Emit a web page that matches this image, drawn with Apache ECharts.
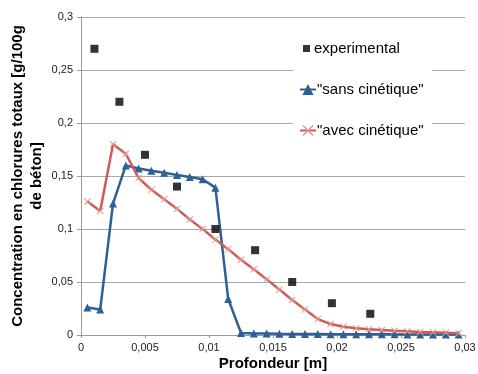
<!DOCTYPE html>
<html>
<head>
<meta charset="utf-8">
<script src="https://cdn.jsdelivr.net/npm/echarts@6/dist/echarts.min.js"></script>
<style>html,body{margin:0;padding:0;background:#fff;}#c{width:478px;height:374px;}</style>
</head>
<body>
<div id="c"></div>
<script>
const simX = [0.0005,0.0015,0.0025,0.0035,0.0045,0.0055,0.0065,0.0075,0.0085,0.0095,0.0105,0.0115,0.0125,0.0135,0.0145,0.0155,0.0165,0.0175,0.0185,0.0195,0.0205,0.0215,0.0225,0.0235,0.0245,0.0255,0.0265,0.0275,0.0285,0.0295];
const sansCinetique = [0.026,0.024,0.124,0.160,0.157,0.155,0.153,0.151,0.149,0.147,0.139,0.034,0.002,0.0015,0.0015,0.0012,0.001,0.001,0.001,0.0008,0.0008,0.0007,0.0007,0.0006,0.0006,0.0005,0.0005,0.0005,0.0005,0.0005];
const avecCinetique = [0.126,0.117,0.180,0.171,0.148,0.137,0.128,0.119,0.109,0.100,0.090,0.081,0.071,0.062,0.0525,0.043,0.033,0.024,0.015,0.0104,0.0078,0.0063,0.0054,0.0047,0.004,0.0035,0.0028,0.0025,0.0022,0.0016];
const expX = [0.00105,0.003,0.005,0.0075,0.0105,0.0136,0.0165,0.0196,0.0226];
const expY = [0.27,0.22,0.17,0.14,0.10,0.08,0.05,0.03,0.02];
const xTicks = {min:0, max:0.03, interval:0.005};
const yTicks = {min:0, max:0.3, interval:0.05};

const fmt = v => String(+v.toFixed(4)).replace('.', ',');
const zip = (a,b) => a.map((x,i)=>[x,b[i]]);
const xSym = 'path://M0,1L1,0L5,4L9,0L10,1L6,5L10,9L9,10L5,6L1,10L0,9L4,5Z';
const font = 'Liberation Sans';
const legText = {fontFamily:font, fontSize:15, color:'#000', padding:[0,0,0,-4]};

const chart = echarts.init(document.getElementById('c'), null, {renderer:'canvas'});
chart.setOption({
  animation:false,
  backgroundColor:'#fff',
  textStyle:{fontFamily:font},
  grid:{left:81, right:13, top:17, bottom:39, containLabel:false, outerBoundsMode:'none'},
  graphic:[{type:'rect', z:1, shape:{x:293, y:27, width:139, height:118}, style:{fill:'#fff'}}],
  legend:[
    {orient:'vertical', left:298, top:36, itemWidth:7, itemHeight:7,
     textStyle:Object.assign({}, legText, {padding:[0,0,0,-1]}),
     data:['experimental']},
    {orient:'vertical', left:294, top:77, itemGap:26, itemWidth:16, itemHeight:14,
     textStyle:legText,
     data:['"sans cinétique"','"avec cinétique"']}
  ],
  xAxis:{
    type:'value', min:xTicks.min, max:xTicks.max, interval:xTicks.interval,
    name:'Profondeur [m]', nameLocation:'middle', nameGap:21, nameMoveOverlap:false,
    nameTextStyle:{fontFamily:font, fontWeight:'bold', fontSize:15, color:'#000'},
    axisLine:{show:true, lineStyle:{color:'#9a9a9a'}},
    axisTick:{show:true, length:3, lineStyle:{color:'#9a9a9a'}},
    axisLabel:{formatter:fmt, fontSize:11, color:'#222', margin:7},
    splitLine:{show:false}
  },
  yAxis:{
    type:'value', min:yTicks.min, max:yTicks.max, interval:yTicks.interval,
    name:'Concentration en chlorures totaux [g/100g\nde béton]', nameLocation:'middle', nameGap:35, nameMoveOverlap:false,
    nameTextStyle:{fontFamily:font, fontWeight:'bold', fontSize:15, color:'#000', lineHeight:19},
    axisLine:{show:true, lineStyle:{color:'#9a9a9a'}},
    axisTick:{show:true, length:4, lineStyle:{color:'#9a9a9a'}},
    axisLabel:{formatter:fmt, fontSize:11, color:'#222', margin:8},
    splitLine:{show:true, lineStyle:{color:'#a8a8a8', width:1}}
  },
  series:[
    {name:'experimental', type:'scatter', data:zip(expX,expY), symbol:'rect', symbolSize:8,
     itemStyle:{color:'#000'}, z:5},
    {name:'"sans cinétique"', type:'line', data:zip(simX,sansCinetique), symbol:'triangle', symbolSize:8,
     showSymbol:true, lineStyle:{color:'#2e5f95', width:2.5}, itemStyle:{color:'#2e5f95'}, z:3},
    {name:'"avec cinétique"', type:'line', data:zip(simX,avecCinetique), symbol:xSym, symbolSize:7,
     showSymbol:true, lineStyle:{color:'#cc5c58', width:2.5}, itemStyle:{color:'#e09a97'}, z:4}
  ]
});
</script>
</body>
</html>
